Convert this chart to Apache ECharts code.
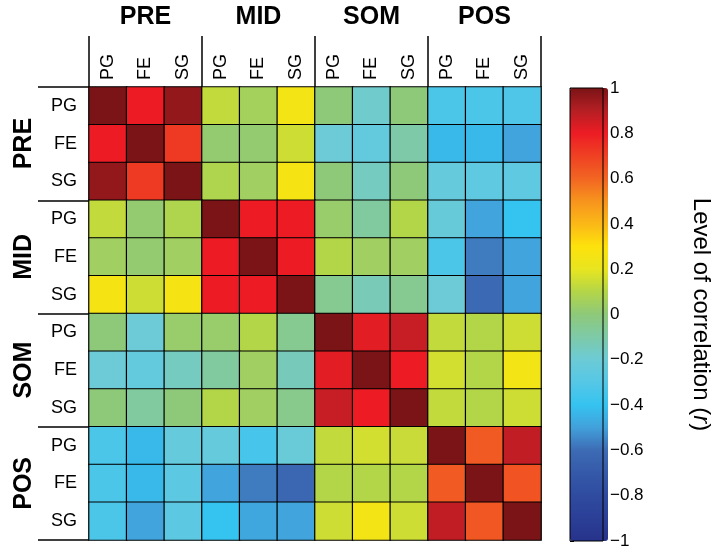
<!DOCTYPE html>
<html>
<head>
<meta charset="utf-8">
<script src="https://cdn.jsdelivr.net/npm/echarts@6/dist/echarts.min.js"></script>
<style>
html,body{margin:0;padding:0;background:#fff;}
#chart{width:714px;height:552px;}
</style>
</head>
<body>
<div id="chart"></div>
<script>
// Categories
var groupLabels = ['PRE', 'MID', 'SOM', 'POS'];
var subLabels = ['PG', 'FE', 'SG'];
// Correlation rows (columns: PRE PG,FE,SG | MID PG,FE,SG | SOM PG,FE,SG | POS PG,FE,SG)
var rowPrePG = [1.00, 0.80, 0.96, 0.13, 0.06, 0.25, 0.00, -0.18, 0.00, -0.33, -0.33, -0.32];
var rowPreFE = [0.80, 1.00, 0.72, 0.02, 0.02, 0.15, -0.20, -0.24, -0.10, -0.43, -0.43, -0.49];
var rowPreSG = [0.96, 0.72, 1.00, 0.09, 0.05, 0.26, 0.00, -0.15, 0.00, -0.23, -0.26, -0.26];
var rowMidPG = [0.13, 0.02, 0.09, 1.00, 0.80, 0.80, 0.03, -0.08, 0.10, -0.22, -0.49, -0.40];
var rowMidFE = [0.05, 0.02, 0.05, 0.80, 1.00, 0.80, 0.10, 0.05, 0.05, -0.33, -0.57, -0.49];
var rowMidSG = [0.26, 0.15, 0.26, 0.80, 0.80, 1.00, -0.05, -0.13, -0.05, -0.20, -0.61, -0.49];
var rowSomPG = [0.00, -0.20, 0.03, 0.03, 0.10, -0.05, 1.00, 0.82, 0.87, 0.13, 0.10, 0.15];
var rowSomFE = [-0.20, -0.24, -0.15, -0.08, 0.05, -0.14, 0.82, 1.00, 0.80, 0.16, 0.10, 0.25];
var rowSomSG = [0.00, -0.08, 0.00, 0.10, 0.05, -0.04, 0.87, 0.80, 1.00, 0.13, 0.10, 0.15];
var rowPosPG = [-0.33, -0.43, -0.23, -0.23, -0.34, -0.21, 0.13, 0.16, 0.14, 1.00, 0.63, 0.88];
var rowPosFE = [-0.33, -0.43, -0.27, -0.49, -0.57, -0.62, 0.10, 0.10, 0.10, 0.63, 1.00, 0.65];
var rowPosSG = [-0.33, -0.49, -0.27, -0.40, -0.48, -0.49, 0.15, 0.25, 0.15, 0.88, 0.64, 1.00];
// Colour scale ticks
var scaleMin = -1, scaleMax = 1, scaleStep = 0.2;
var scaleColors = ['#27338a', '#2b3f97', '#2f4ba0', '#3559a9', '#3d6bb4', '#42a0da', '#35c3f0',
  '#55c7e6', '#6ccbd6', '#7ecaa8', '#8ec97a', '#b3d548', '#e8e520', '#fde20c', '#fbb817',
  '#f7941d', '#f26522', '#ef4123', '#ed1c24', '#b51f24', '#7a1416'];

var rows = [rowPrePG, rowPreFE, rowPreSG, rowMidPG, rowMidFE, rowMidSG,
            rowSomPG, rowSomFE, rowSomSG, rowPosPG, rowPosFE, rowPosSG];
var cats = [];
groupLabels.forEach(function (g) { subLabels.forEach(function (s) { cats.push(g + '-' + s); }); });
var data = [];
rows.forEach(function (r, i) { r.forEach(function (v, j) { data.push([j, i, v]); }); });

var FONT = "'Liberation Sans', Arial, Helvetica, sans-serif";
var chart = echarts.init(document.getElementById('chart'), null, {renderer: 'canvas'});
chart.setOption({
  backgroundColor: '#fff',
  animation: false,
  textStyle: {fontFamily: FONT, color: '#000'},
  grid: [
    {left: 89, top: 87, width: 452, height: 453},
    {left: 570, top: 88, width: 38, height: 453, show: true, z: 10,
     borderColor: '#000', borderWidth: 1, backgroundColor: 'transparent'}
  ],
  xAxis: [
    {type: 'category', gridIndex: 0, position: 'top', data: cats,
     axisLine: {show: false}, axisTick: {show: false}, splitLine: {show: false},
     axisLabel: {rotate: -90, margin: 7, fontSize: 18, color: '#000', fontFamily: FONT,
       formatter: function (v) { return v.split('-')[1]; }}},
    {type: 'category', gridIndex: 0, position: 'top', data: groupLabels,
     axisLine: {show: false}, splitLine: {show: false},
     axisTick: {show: true, length: 51, lineStyle: {color: '#000', width: 1.5}},
     axisLabel: {margin: 57, fontSize: 25, fontWeight: 'bold', color: '#000', fontFamily: FONT}},
    {type: 'value', gridIndex: 1, show: false, min: 0, max: 1}
  ],
  yAxis: [
    {type: 'category', gridIndex: 0, inverse: true, data: cats,
     axisLine: {show: false}, axisTick: {show: false}, splitLine: {show: false},
     axisLabel: {margin: 12, fontSize: 18, color: '#000', fontFamily: FONT,
       formatter: function (v) { return v.split('-')[1]; }}},
    {type: 'category', gridIndex: 0, inverse: true, data: groupLabels, position: 'left',
     axisLine: {show: false}, splitLine: {show: false},
     axisTick: {show: true, length: 51, lineStyle: {color: '#000', width: 1.5}},
     axisLabel: {rotate: 90, margin: 52, fontSize: 25, fontWeight: 'bold', color: '#000', fontFamily: FONT}},
    {type: 'value', gridIndex: 1, position: 'right', min: scaleMin, max: scaleMax, interval: scaleStep,
     axisLine: {show: false}, splitLine: {show: false},
     axisTick: {show: true, length: 4, lineStyle: {color: '#000', width: 1}},
     axisLabel: {margin: 7, fontSize: 17, color: '#000', fontFamily: FONT,
       formatter: function (v) {
         var r = Math.round(v * 10) / 10;
         return (r < 0 ? '\u2212' : '') + String(Math.abs(r));
       }},
     name: '{a|Level of correlation (}{b|r}{a|)}', nameLocation: 'middle', nameRotate: -90, nameGap: 86,
     nameTextStyle: {rich: {
       a: {fontSize: 24, color: '#000', fontFamily: FONT},
       b: {fontSize: 24, color: '#000', fontFamily: FONT, fontStyle: 'italic'}
     }}}
  ],
  visualMap: {
    type: 'continuous', min: scaleMin, max: scaleMax, calculable: false,
    orient: 'vertical', left: 570, top: 88, itemWidth: 38, itemHeight: 453, padding: 0,
    text: null, showLabel: false, seriesIndex: 0,
    inRange: {color: scaleColors}
  },
  series: [{
    type: 'heatmap', xAxisIndex: 0, yAxisIndex: 0, data: data,
    itemStyle: {borderColor: '#000', borderWidth: 1.2},
    emphasis: {disabled: true}
  }]
});
</script>
</body>
</html>
